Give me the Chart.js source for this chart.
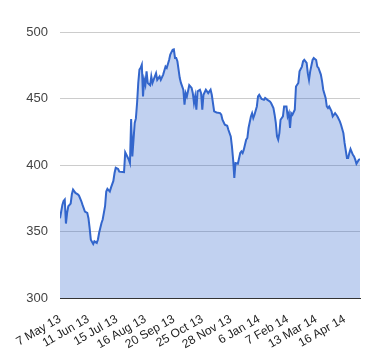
<!DOCTYPE html>
<html>
<head>
<meta charset="utf-8">
<script src="https://cdn.jsdelivr.net/npm/chart.js@4.4.0/dist/chart.umd.min.js"></script>
<style>
  body { margin: 0; background: #fff; }
  #wrap { width: 380px; height: 360px; }
</style>
</head>
<body>
<div id="wrap"><canvas id="priceChart"></canvas></div>
<script>
const days = [0, 2, 3, 4, 5, 6, 7, 9, 10, 11, 13, 15, 16, 18, 19, 21, 23, 24, 25, 26, 28, 29, 31, 32, 33, 35, 36, 38, 39, 40,
  42, 43, 45, 46, 47, 49, 50, 53, 54, 55, 56, 58, 59, 60, 61, 63, 64, 65, 66, 67, 68, 69, 70, 71, 72, 73, 74, 76, 77, 78,
  80, 81, 82, 84, 85, 87, 89, 90, 92, 93, 95, 96, 97, 98, 99, 101, 102, 104, 105, 106, 107, 109, 111, 112, 113, 114, 115, 116, 118, 119,
  120, 121, 123, 125, 127, 128, 130, 132, 135, 136, 137, 139, 141, 142, 144, 145, 146, 147, 148, 150, 152, 153, 154, 155, 157, 158, 159, 161, 162, 163,
  164, 166, 167, 168, 170, 172, 173, 175, 177, 178, 180, 181, 182, 183, 184, 185, 186, 188, 189, 191, 192, 193, 194, 195, 196, 198, 199, 201, 202, 204,
  205, 206, 208, 209, 210, 211, 213, 214, 216, 217, 218, 220, 221, 222, 224, 225, 226, 227, 229, 230, 232, 233, 234, 236, 237, 239, 240, 242, 243, 244,
  245, 247, 248, 249, 250, 252, 253];
const prices = [360, 370, 373, 374, 356, 364, 369, 371, 378, 381.5, 379, 378, 377, 372.7, 370, 365, 364, 360, 352.6, 343.8, 340.6, 342.6, 341.4, 344, 349, 356.4, 359, 369, 380, 382,
  380, 383, 388, 394, 398, 397, 395, 394.7, 394.6, 409.5, 407.7, 404, 401.5, 434.6, 406.5, 431.6, 435, 446.6, 461.7, 471.7, 473, 475.4, 451.6, 464, 460.4, 470.4, 461.7, 460, 466.6, 461.7,
  466.6, 469, 464, 466.6, 464, 468, 474, 473, 479, 483, 486.7, 487, 480.5, 480.5, 478, 465.4, 461.7, 456.6, 445.3, 454, 451.6, 460, 458, 454, 446.6, 451.6, 441.6, 455.4, 456.6, 454,
  441.6, 452.8, 456.6, 454, 456.6, 452.8, 440.3, 439.5, 439, 437.8, 434, 430.3, 429.5, 426.5, 421.5, 414, 404, 390.2, 401.5, 401, 409, 410.2, 409, 411.5, 419, 420.3, 427.8, 436.5, 439, 435.3,
  437.8, 444, 451.6, 452.8, 449.6, 449, 450.4, 449, 447.8, 446.6, 442.8, 437.8, 431.6, 421.5, 419, 424, 434, 436.5, 444, 444, 436.5, 439, 427.8, 439, 437.8, 441.6, 459, 461.7, 470.4, 474,
  478, 479, 476.7, 469, 464, 470.4, 479, 480.5, 479, 474, 473, 468, 463, 456.6, 450.4, 444, 442.8, 444, 440.3, 436.5, 439, 437.8, 436.5, 432.8, 430.3, 424, 416.6, 405.3, 405.3, 409,
  412, 407.7, 406.5, 404, 401, 404, 404.5];

// one label every 24 trading days
const tickLabels = ['7 May 13', '11 Jun 13', '15 Jul 13', '16 Aug 13', '20 Sep 13', '25 Oct 13',
  '28 Nov 13', '6 Jan 14', '7 Feb 14', '13 Mar 14', '16 Apr 14'];
const tickStep = 24;
const yTicks = [300, 350, 400, 450, 500];

const points = days.map((d, i) => ({ x: d, y: prices[i] }));

new Chart(document.getElementById('priceChart'), {
    type: 'line',
    data: {
        datasets: [{
            data: points,
            borderColor: '#3366cc',
            borderWidth: 2,
            backgroundColor: 'rgba(51, 102, 204, 0.3)',
            fill: 'start',
            pointRadius: 0,
            tension: 0
        }]
    },
    options: {
        responsive: true,
        maintainAspectRatio: false,
        animation: false,
        layout: { padding: { top: 32, right: 20, left: 0, bottom: 0 } },
        plugins: {
            legend: { display: false },
            tooltip: { enabled: false }
        },
        scales: {
            x: {
                type: 'linear',
                min: 0,
                max: 253,
                afterBuildTicks: function (scale) {
                    scale.ticks = tickLabels.map((_, i) => ({ value: i * tickStep }));
                },
                afterFit: function (scale) { scale.height = 62; },
                grid: { display: false },
                border: { color: '#333', width: 1 },
                ticks: {
                    autoSkip: false,
                    minRotation: 30,
                    maxRotation: 30,
                    padding: 6,
                    color: '#222',
                    font: { family: 'Arial, "Liberation Sans", sans-serif', size: 12 },
                    callback: function (value) {
                        return tickLabels[Math.round(value / tickStep)];
                    }
                }
            },
            y: {
                min: 300,
                max: 500,
                afterBuildTicks: function (scale) {
                    scale.ticks = yTicks.map(v => ({ value: v }));
                },
                afterFit: function (scale) { scale.width = 60; },
                grid: { color: '#cccccc', drawTicks: false },
                border: { display: false },
                ticks: {
                    padding: 12,
                    color: '#444',
                    font: { family: 'Arial, "Liberation Sans", sans-serif', size: 13 }
                }
            }
        }
    }
});
</script>
</body>
</html>
